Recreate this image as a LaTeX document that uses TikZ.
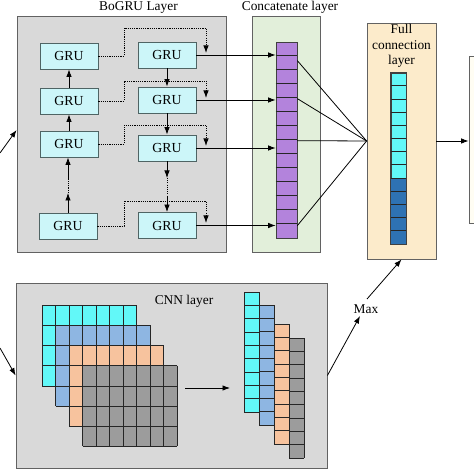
\documentclass[tikz,border=0pt]{standalone}
\usepackage{fontspec}
\setmainfont{Liberation Serif}
\usetikzlibrary{arrows.meta,calc}
\definecolor{boxgray}{HTML}{D9D9D9}
\definecolor{boxline}{HTML}{626262}
\definecolor{gruc}{HTML}{CCF6F9}
\definecolor{gruline}{HTML}{4F6464}
\definecolor{concatc}{HTML}{E2EFDA}
\definecolor{purplec}{HTML}{B383DC}
\definecolor{fcc}{HTML}{FCEBCB}
\definecolor{cyanc}{HTML}{62F8F8}
\definecolor{dblue}{HTML}{2E72B3}
\definecolor{lblue}{HTML}{8EB6E2}
\definecolor{orangec}{HTML}{F7C39E}
\definecolor{grayc}{HTML}{9C9C9C}
\definecolor{outc}{HTML}{FFFDF3}
\begin{document}
\begin{tikzpicture}[x=1bp,y=-1bp,
  txt/.style={font=\fontsize{13.4bp}{15.5bp}\selectfont, inner sep=0pt},
  layerbox/.style={draw=boxline, line width=0.8bp, inner sep=0pt},
  gru/.style={draw=gruline, fill=gruc, line width=0.8bp, minimum width=58bp, minimum height=26bp, inner sep=0pt, font=\fontsize{13.8bp}{15bp}\selectfont},
  bar/.style={draw=black!75, line width=0.7bp, inner sep=0pt},
  arr/.style={line width=0.8bp, -{Latex[length=7.5bp,width=5.5bp]}},
  ln/.style={line width=0.8bp},
  dots/.style={line width=0.9bp, dash pattern=on 1.1bp off 1.1bp},
  dotarr/.style={dots, -{Latex[length=7.5bp,width=5.5bp]}},
  cell/.style={draw=black!85, line width=0.6bp}
]
\useasboundingbox (0,0) rectangle (474,474);

% ---- layer boxes
\node[layerbox, fill=boxgray, minimum width=209bp, minimum height=236bp] (bogru) at (121.5,134) {};
\node[layerbox, fill=concatc, minimum width=68bp, minimum height=236bp] (concat) at (286,134) {};
\node[layerbox, fill=fcc, minimum width=69bp, minimum height=236bp] (fc) at (401.5,141) {};
\node[layerbox, fill=outc, minimum width=31bp, minimum height=167bp] (out) at (484.5,139.5) {};
\node[layerbox, fill=boxgray, minimum width=311bp, minimum height=185bp] (cnn) at (171.5,375.5) {};

% ---- titles
\node[txt] (tbogru) at (138.5,8) {BoGRU Layer};
\node[txt] (tconcat) at (290,7) {Concatenate layer};
\node[txt, align=center] (tfc) at (401.5,46) {Full\\connection\\layer};
\node[txt] (tcnn) at (184,301) {CNN layer};
\node[txt] (maxl) at (366,309) {Max};

% ---- GRU nodes
\node[gru] (l1) at (69,56) {GRU};
\node[gru] (l2) at (69,101) {GRU};
\node[gru] (l3) at (69,144) {GRU};
\node[gru] (l4) at (68,226) {GRU};
\node[gru] (r1) at (167,55) {GRU};
\node[gru] (r2) at (167,100) {GRU};
\node[gru] (r3) at (167,148) {GRU};
\node[gru] (r4) at (167,225.5) {GRU};

% ---- vertical arrows in columns
\draw[arr] (l2.north) -- (l1.south);
\draw[arr] (l3.north) -- (l2.south);
\coordinate (la) at (68,193);
\coordinate (lb) at (68,180);
\draw[arr] (l4.north) -- (la);
\draw[dots] (la) -- (lb);
\draw[arr] (lb) -- (l3.south -| lb);
\draw[arr] (r1.south) -- (r2.north);
\draw[arr] (r2.south) -- (r3.north);
\coordinate (ra) at (167,178);
\coordinate (rb) at (167,197);
\draw[arr] (r3.south) -- (ra);
\draw[dots] (ra) -- (rb);
\draw[arr] (rb) -- (r4.north);

% ---- dotted cross connections
\draw[dotarr] (l1.east) -- (124,56) -- (124,28) -- (206,28) -- (206,53);
\draw[dotarr] (l2.east) -- (124,101) -- (124,81) -- (206,81) -- (206,98);
\draw[dotarr] (l3.east) -- (124,144) -- (124,125) -- (206,125) -- (206,146);
\draw[dotarr] (l4.east) -- (124,226) -- (124,201) -- (206,201) -- (206,223);

% ---- concat bar
\node[bar, fill=purplec, minimum width=21bp, minimum height=196bp] (cbar) at (286.5,140) {};
\foreach \i in {1,...,13} {
  \draw[cell] ($(cbar.north west)+(0,\i*14)$) -- ($(cbar.north east)+(0,\i*14)$);
}

% ---- outputs into concat
\draw[arr] (r1.east) -- (r1.east -| cbar.west);
\draw[arr] (r2.east) -- (r2.east -| cbar.west);
\draw[arr] (r3.east) -- (r3.east -| cbar.west);
\draw[arr] (r4.east) -- (r4.east -| cbar.west);

% ---- concat to full connection
\draw[ln] ($(cbar.north east)+(0,19)$) -- (fc.west);
\draw[ln] ($(cbar.north east)+(0,57)$) -- (fc.west);
\draw[ln] ($(cbar.north east)+(0,99)$) -- (fc.west);
\draw[ln] ($(cbar.north east)+(0,184)$) -- (fc.west);

% ---- full connection bar
\node[bar, fill=cyanc, minimum width=15bp, minimum height=171bp] (fbar) at (398.5,158.5) {};
\fill[dblue] ($(fbar.north west)+(0,105.2)$) rectangle (fbar.south east);
\draw[bar] (fbar.north west) rectangle (fbar.south east);
\foreach \i in {1,...,12} {
  \draw[cell] ($(fbar.north west)+(0,\i*13.154)$) -- ($(fbar.north east)+(0,\i*13.154)$);
}

% ---- full connection to output
\draw[arr] (fc.east) -- (fc.east -| out.west);

% ---- input arrows
\coordinate (in1) at (0,153);
\coordinate (in2) at (0,348);
\draw[arr] (in1) -- (bogru.west |- 0,130);
\draw[arr] (in2) -- (cnn.west);

% ---- CNN feature maps (7 x 4 cells, 13.5 x 20.2)
\foreach \ox/\oy/\c in {42/305/cyanc, 55.5/325.2/lblue, 69/345.4/orangec, 82.5/365.6/grayc} {
  \fill[\c] (\ox,\oy) rectangle ++(94.5,80.8);
  \foreach \k in {0,...,7} { \draw[cell] (\ox+\k*13.5,\oy) -- ++(0,80.8); }
  \foreach \k in {0,...,4} { \draw[cell] (\ox,\oy+\k*20.2) -- ++(94.5,0); }
}
\coordinate (ca) at (185,388);
\coordinate (cb) at (230,388);
\draw[arr] (ca) -- (cb);

% ---- pooled columns (9 cells each)
\foreach \ox/\oy/\c in {244/292/cyanc, 259/305/lblue, 274/324/orangec, 289/338/grayc} {
  \fill[\c] (\ox,\oy) rectangle ++(15,120);
  \foreach \k in {0,...,9} { \draw[cell] (\ox,\oy+\k*13.333) -- ++(15,0); }
  \draw[cell] (\ox,\oy) -- ++(0,120);
  \draw[cell] (\ox+15,\oy) -- ++(0,120);
}

% ---- Max arrow
\coordinate (m1) at (360,316);
\coordinate (m2) at (367,299);
\draw[arr] (cnn.east) -- (m1);
\draw[arr] (m2) -- (fc.south);
\end{tikzpicture}
\end{document}
